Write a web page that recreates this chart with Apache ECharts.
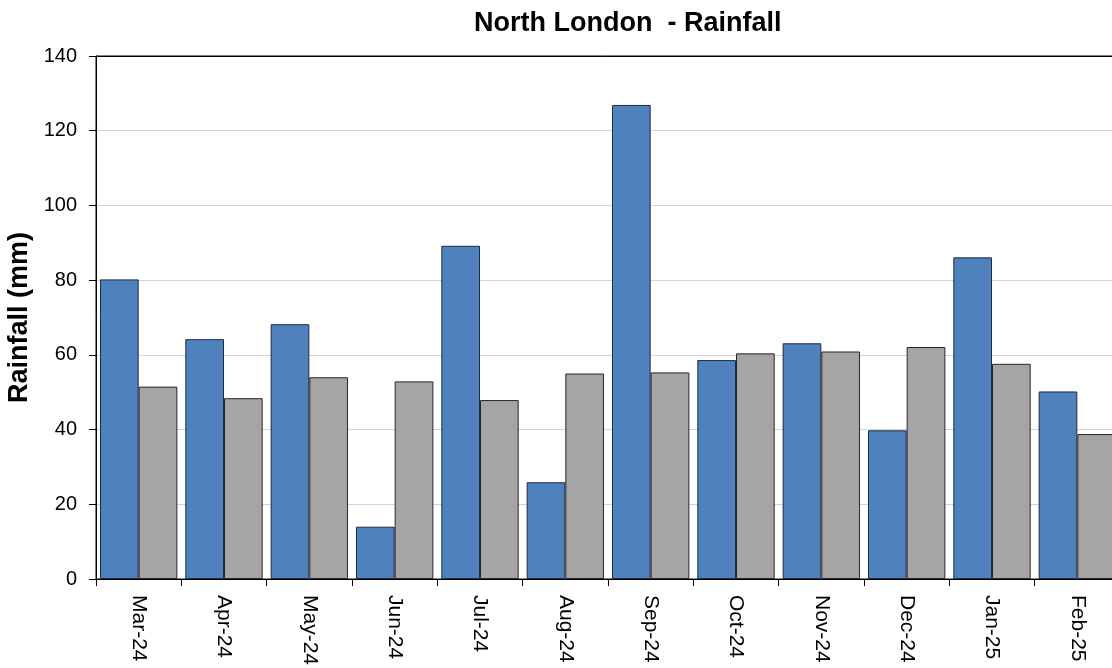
<!DOCTYPE html>
<html>
<head>
<meta charset="utf-8">
<title>North London - Rainfall</title>
<script src="https://cdn.jsdelivr.net/npm/echarts@6/dist/echarts.min.js"></script>
<style>
  html, body { margin: 0; padding: 0; background: #ffffff; overflow: hidden; }
  #chart { width: 1112px; height: 668px; }
</style>
</head>
<body>
<div id="chart"></div>
<script>
// Monthly rainfall totals (mm), March 2024 – February 2025
const months = ['Mar-24', 'Apr-24', 'May-24', 'Jun-24', 'Jul-24', 'Aug-24',
                'Sep-24', 'Oct-24', 'Nov-24', 'Dec-24', 'Jan-25', 'Feb-25'];
// Measured rainfall for each month
const rainfall = [80.2, 64.2, 68.2, 14.0, 89.2, 25.9, 126.9, 58.6, 63.1, 39.8, 86.1, 50.2];
// Long-term monthly average for comparison
const average = [51.5, 48.4, 54.0, 52.9, 47.9, 55.0, 55.3, 60.4, 60.9, 62.1, 57.6, 38.8];

const FONT = '"Liberation Sans", Arial, Helvetica, sans-serif';

const chart = echarts.init(document.getElementById('chart'), null, { renderer: 'canvas' });

// light gridlines, with the top line of the plot frame in black
const gridColors = ['#d4d4d4', '#d4d4d4', '#d4d4d4', '#d4d4d4',
                    '#d4d4d4', '#d4d4d4', '#d4d4d4', '#000000'];

chart.setOption({
  animation: false,
  backgroundColor: '#ffffff',
  title: {
    text: 'North London  - Rainfall',
    left: 469,
    top: 5,
    textStyle: { fontFamily: FONT, fontSize: 27, fontWeight: 'bold', color: '#000000' }
  },
  grid: {
    // plot area runs slightly past the right edge of the canvas
    left: 96,
    top: 56,
    width: 1024,
    height: 523,
    outerBoundsMode: 'none',
    containLabel: false,
    show: true,
    borderColor: '#000000',
    borderWidth: 1,
    backgroundColor: 'transparent'
  },
  xAxis: {
    type: 'category',
    data: months,
    boundaryGap: true,
    axisLine: { show: true, lineStyle: { color: '#000000', width: 1 } },
    axisTick: { show: true, alignWithLabel: false, length: 7, lineStyle: { color: '#000000' } },
    axisLabel: {
      rotate: -90,
      margin: 16,
      interval: 0,
      color: '#000000',
      fontFamily: FONT,
      fontSize: 21
    },
    splitLine: { show: false }
  },
  yAxis: {
    type: 'value',
    min: 0,
    max: 140,
    interval: 20,
    name: 'Rainfall (mm)',
    nameLocation: 'middle',
    nameGap: 57,
    nameTextStyle: { fontFamily: FONT, fontSize: 27, fontWeight: 'bold', color: '#000000' },
    axisLine: { show: true, lineStyle: { color: '#000000', width: 1 } },
    axisTick: { show: true, length: 7, lineStyle: { color: '#000000' } },
    axisLabel: { margin: 19, color: '#000000', fontFamily: FONT, fontSize: 20 },
    splitLine: { show: true, lineStyle: { color: gridColors, width: 1 } }
  },
  series: [
    {
      name: 'Rainfall',
      type: 'bar',
      data: rainfall,
      barGap: '0%',
      barCategoryGap: '9.3%',
      itemStyle: { color: '#4f81bd', borderColor: '#1e2b40', borderWidth: 1 }
    },
    {
      name: 'Average',
      type: 'bar',
      data: average,
      barGap: '0%',
      barCategoryGap: '9.3%',
      itemStyle: { color: '#a5a5a5', borderColor: '#262626', borderWidth: 1 }
    }
  ]
});
</script>
</body>
</html>
